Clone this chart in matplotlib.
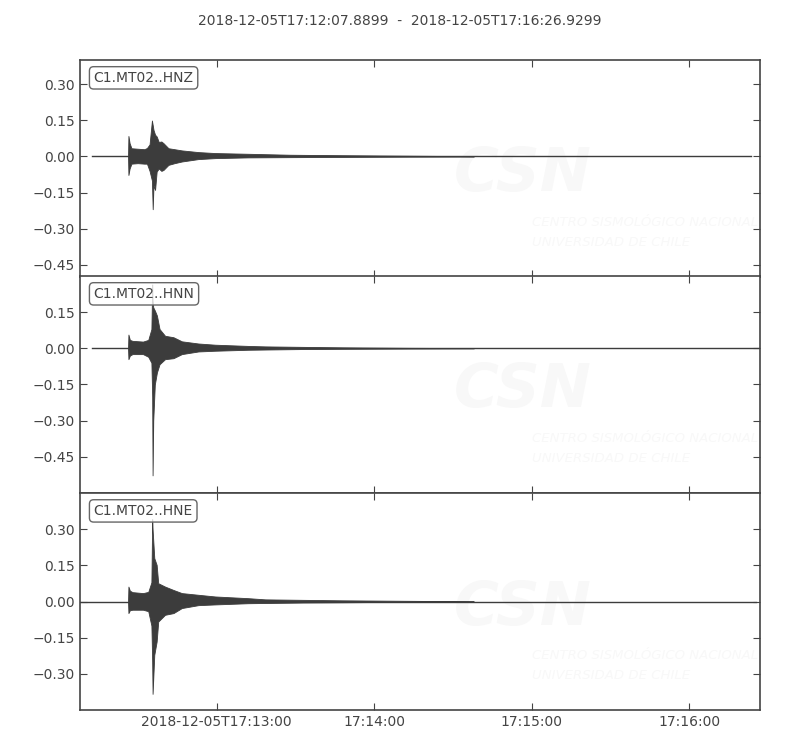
"""Three-component strong-motion record C1.MT02 (HNZ / HNN / HNE), ObsPy-style."""
import matplotlib
matplotlib.use("Agg")
import matplotlib.pyplot as plt
import numpy as np

TITLE = "2018-12-05T17:12:07.8899  -  2018-12-05T17:16:26.9299"
DURATION = 259.04  # s, from 17:12:07.8899

# tick times, seconds after start
TICK_SEC = [52.1101, 112.1101, 172.1101, 232.1101]
TICK_LABELS = ["2018-12-05T17:13:00", "17:14:00", "17:15:00", "17:16:00"]

CHANNELS = ["C1.MT02..HNZ", "C1.MT02..HNN", "C1.MT02..HNE"]
TRACE_START = [4.6, 4.6, 0.0]
TRACE_END = [255.6, 259.04, 257.5]
YLIM = [(-0.50, 0.40), (-0.60, 0.30), (-0.45, 0.45)]
YTICKS = [[-0.45, -0.30, -0.15, 0.00, 0.15, 0.30],
          [-0.45, -0.30, -0.15, 0.00, 0.15],
          [-0.30, -0.15, 0.00, 0.15, 0.30]]

# envelope of each trace: time [s], upper, lower
HNZ_T = [18.3, 18.45, 18.9, 19.6, 22.0, 24.5, 25.5, 26.5, 27.4, 27.7, 28.0, 28.6, 29.2,
         30.0, 31.0, 31.8, 33.7, 36.0, 38.8, 45.1, 51.5, 64.0, 80.0, 100.0, 125.0, 150.0]
HNZ_UP = [0.0, 0.085, 0.055, 0.034, 0.032, 0.030, 0.035, 0.050, 0.149, 0.130, 0.110, 0.090, 0.083,
          0.060, 0.062, 0.055, 0.034, 0.030, 0.025, 0.018, 0.014, 0.011, 0.007, 0.005, 0.003, 0.001]
HNZ_LO = [0.0, -0.077, -0.050, -0.030, -0.028, -0.030, -0.030, -0.060, -0.100, -0.219, -0.120, -0.139, -0.063,
          -0.050, -0.060, -0.056, -0.035, -0.028, -0.021, -0.011, -0.007, -0.004, -0.003, -0.002, -0.001, -0.0005]

HNN_T = [18.3, 18.45, 19.0, 20.0, 24.0, 26.0, 27.2, 27.5, 27.65, 27.9, 28.5, 29.3, 30.3,
         32.4, 35.6, 38.8, 45.1, 51.5, 64.0, 70.6, 85.0, 100.0, 125.0, 150.0]
HNN_UP = [0.0, 0.057, 0.035, 0.031, 0.028, 0.035, 0.080, 0.265, 0.200, 0.170, 0.157, 0.136, 0.080,
          0.052, 0.046, 0.029, 0.020, 0.015, 0.010, 0.008, 0.006, 0.004, 0.002, 0.001]
HNN_LO = [0.0, -0.045, -0.030, -0.024, -0.024, -0.035, -0.060, -0.200, -0.527, -0.300, -0.150, -0.100, -0.066,
          -0.045, -0.041, -0.024, -0.013, -0.010, -0.006, -0.005, -0.003, -0.002, -0.001, -0.0005]

HNE_T = [18.3, 18.45, 19.0, 20.0, 24.0, 26.0, 27.2, 27.5, 27.65, 28.3, 29.2, 29.8,
         32.4, 35.6, 38.8, 45.1, 51.5, 64.0, 70.6, 85.0, 100.0, 125.0, 150.0]
HNE_UP = [0.0, 0.062, 0.045, 0.039, 0.035, 0.040, 0.080, 0.342, 0.300, 0.180, 0.152, 0.076,
          0.062, 0.048, 0.035, 0.028, 0.021, 0.014, 0.009, 0.007, 0.005, 0.003, 0.001]
HNE_LO = [0.0, -0.048, -0.036, -0.034, -0.034, -0.040, -0.100, -0.250, -0.383, -0.221, -0.166, -0.083,
          -0.055, -0.048, -0.027, -0.015, -0.012, -0.007, -0.006, -0.004, -0.003, -0.001, -0.0005]

ENVELOPES = [(HNZ_T, HNZ_UP, HNZ_LO), (HNN_T, HNN_UP, HNN_LO), (HNE_T, HNE_UP, HNE_LO)]

FG = "#444444"
WAVE = "#3c3c3c"
WM = "#f8f8f8"

plt.rcParams.update({
    "font.family": "DejaVu Sans", "font.size": 10,
    "text.color": FG, "axes.edgecolor": FG,
    "xtick.color": FG, "ytick.color": FG,
    "xtick.direction": "in", "ytick.direction": "in",
    "xtick.top": True, "ytick.right": True,
    "xtick.major.size": 5, "ytick.major.size": 5,
})

fig = plt.figure(figsize=(8, 7.5), dpi=100)
fig.text(0.5, 1 - 21 / 750, TITLE, ha="center", va="center", fontsize=10)

left, width = 0.1, 0.85
bottoms = [0.6307, 0.3427, 0.0533]
height = 0.2893

for i, ch in enumerate(CHANNELS):
    ax = fig.add_axes([left, bottoms[i], width, height])
    for s in ax.spines.values():
        s.set_linewidth(1.2)

    # faint CSN watermark
    ax.text(0.55, 0.47, "CSN", transform=ax.transAxes, fontsize=44, fontweight="bold",
            style="italic", color=WM, ha="left", va="center", zorder=0)
    ax.text(0.665, 0.25, "CENTRO SISMOLÓGICO NACIONAL", transform=ax.transAxes, fontsize=9.5,
            style="italic", color=WM, ha="left", va="center", zorder=0)
    ax.text(0.665, 0.16, "UNIVERSIDAD DE CHILE", transform=ax.transAxes, fontsize=9.5,
            style="italic", color=WM, ha="left", va="center", zorder=0)

    t, up, lo = ENVELOPES[i]
    ax.plot([TRACE_START[i], TRACE_END[i]], [0, 0], color=WAVE, lw=1.0, zorder=2)
    ax.fill_between(t, lo, up, color=WAVE, lw=0.6, edgecolor=WAVE, zorder=3)

    ax.set_xlim(0, DURATION)
    ax.set_ylim(*YLIM[i])
    ax.set_yticks(YTICKS[i])
    ax.set_yticklabels([f"{v:.2f}".replace("-", "\u2212") for v in YTICKS[i]])
    ax.set_xticks(TICK_SEC)
    if i == 2:
        ax.set_xticklabels(TICK_LABELS)
    else:
        ax.set_xticklabels([])

    # semi-transparent label box: the peak shows faintly through it
    ax.text(0.02, 0.95, ch, transform=ax.transAxes, ha="left", va="top", fontsize=10,
            zorder=5, bbox=dict(boxstyle="round,pad=0.3", fc=(1, 1, 1, 0.8), ec="#666666", lw=1.0))

fig.savefig("out.png", dpi=100)
